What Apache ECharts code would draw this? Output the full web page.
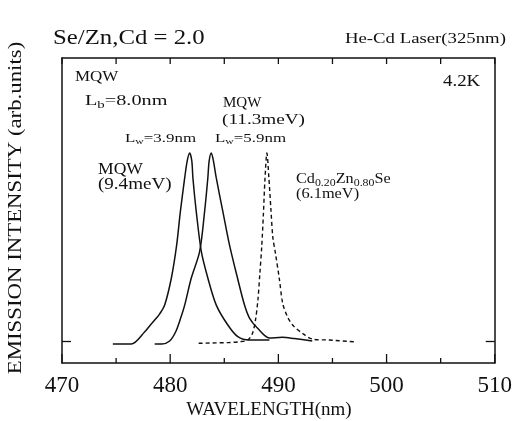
<!DOCTYPE html>
<html>
<head>
<meta charset="utf-8">
<script src="https://cdn.jsdelivr.net/npm/echarts@6/dist/echarts.min.js"></script>
<style>html,body{margin:0;padding:0;background:#fff}#c{width:515px;height:421px}</style>
</head>
<body>
<div id="c"></div>
<script>
// ---- data ----
const xTicks = [470, 480, 490, 500, 510];
const xMinorTicks = [475, 485, 495, 505];
const xTopTicks = [470, 475, 480, 485, 490, 495, 500, 505, 510];
const yTicks = [0];
const mqw39_wl = [474.7, 476.4, 477.65, 478.1, 478.73, 479.03, 479.49, 480.11, 480.6, 480.94, 481.34, 481.57, 481.8, 482.0, 482.1, 482.41, 482.88, 483.48, 484.26, 485.33, 486.25, 487.33, 489.17];
const mqw39_I  = [-0.016, -0.016, 0.049, 0.08, 0.122, 0.144, 0.191, 0.335, 0.511, 0.688, 0.867, 0.957, 1.0, 0.957, 0.867, 0.688, 0.475, 0.335, 0.191, 0.085, 0.023, 0.005, 0.005];
const mqw59_wl = [478.57, 479.22, 479.95, 480.51, 480.97, 481.34, 481.95, 482.72, 483.18, 483.48, 483.6, 483.8, 484.0, 484.26, 484.87, 485.48, 486.22, 486.87, 487.33, 488.06, 489.17, 490.37, 491.47, 493.13];
const mqw59_I  = [-0.016, -0.016, 0.0, 0.049, 0.122, 0.191, 0.335, 0.475, 0.688, 0.867, 0.957, 1.0, 0.957, 0.867, 0.688, 0.511, 0.335, 0.191, 0.122, 0.069, 0.016, 0.020, 0.013, 0.0];
const cdznse_wl = [482.63, 485.48, 486.41, 487.17, 487.6, 487.88, 488.11, 488.29, 488.46, 488.62, 488.76, 488.94, 489.12, 489.31, 489.49, 489.72, 490.09, 490.4, 490.83, 491.32, 492.24, 493.16, 494.7, 497.16];
const cdznse_I  = [-0.012, -0.008, -0.004, 0.005, 0.04, 0.11, 0.22, 0.36, 0.5, 0.68, 0.86, 1.0, 0.87, 0.7, 0.55, 0.47, 0.33, 0.2, 0.13, 0.085, 0.04, 0.01, 0.005, -0.005];

const pair = (xs, ys) => xs.map((x, i) => [x, ys[i]]);
const ink = '#111';
const serif = '"Liberation Serif", "Times New Roman", serif';
const yMin = -0.117, yMax = 1.505;

const chart = echarts.init(document.getElementById('c'), null, {renderer: 'canvas'});

function txt(x, y, text, size, sx, align) {
  return {
    type: 'text', x: x, y: y, scaleX: sx || 1,
    style: {x: 0, y: 0, text: text, font: size + 'px ' + serif, fill: ink, verticalAlign: 'top', align: align || 'left'}
  };
}
function richTxt(x, y, text, size, sx) {
  return {
    type: 'text', x: x, y: y, scaleX: sx || 1,
    style: {
      x: 0, y: 0, verticalAlign: 'top', align: 'left', fill: ink,
      text: text,
      rich: {
        a: {fontSize: size, fontFamily: serif, fill: ink, lineHeight: size + 4},
        s: {fontSize: Math.round(size * 0.7), fontFamily: serif, fill: ink, lineHeight: size + 4, padding: [Math.round(size * 0.45), 0, 0, 0]}
      }
    }
  };
}
function xAx(pos, labels) {
  return {
    type: 'value', min: 470, max: 510, interval: 10, position: pos,
    axisLine: {show: true, onZero: false, lineStyle: {color: ink, width: 1.5}},
    axisTick: {show: false},
    splitLine: {show: false},
    axisLabel: labels ? {color: ink, fontSize: 23, fontFamily: serif, margin: 11} : {show: false}
  };
}
function yAx(pos) {
  return {
    type: 'value', min: yMin, max: yMax, position: pos,
    axisLine: {show: true, onZero: false, lineStyle: {color: ink, width: 1.5}},
    axisTick: {show: true, inside: true, length: 9, customValues: yTicks, lineStyle: {color: ink, width: 1.3}},
    axisLabel: {show: false},
    splitLine: {show: false}
  };
}
// inward x ticks drawn through the x scale; dir -1 = up from bottom edge, +1 = down from top edge
function tickSeries(values, edge, len, dir) {
  return {
    type: 'custom', silent: true, clip: false, z: 5,
    data: values.map(v => [v, edge]),
    encode: {x: 0, y: 1},
    renderItem: function (params, api) {
      const p = api.coord([api.value(0), api.value(1)]);
      return {
        type: 'line',
        shape: {x1: p[0], y1: p[1], x2: p[0], y2: p[1] + dir * len},
        style: {stroke: ink, lineWidth: 1.3}
      };
    }
  };
}

const option = {
  backgroundColor: '#fff',
  animation: false,
  grid: {left: 62, right: 19, top: 58, bottom: 58},
  xAxis: [xAx('bottom', true), xAx('top', false)],
  yAxis: [yAx('left'), yAx('right')],
  series: [{
    type: 'line', name: 'MQW Lw=3.9nm', data: pair(mqw39_wl, mqw39_I), showSymbol: false,
    smooth: 0.3, lineStyle: {color: ink, width: 1.5}
  }, {
    type: 'line', name: 'MQW Lw=5.9nm', data: pair(mqw59_wl, mqw59_I), showSymbol: false,
    smooth: 0.3, lineStyle: {color: ink, width: 1.5}
  }, {
    type: 'line', name: 'Cd0.20Zn0.80Se', data: pair(cdznse_wl, cdznse_I), showSymbol: false,
    smooth: 0.3, lineStyle: {color: ink, width: 1.4, type: [4, 3]}
  },
    tickSeries(xTicks, yMin, 9, -1),
    tickSeries(xMinorTicks, yMin, 5, -1),
    tickSeries(xTopTicks, yMax, 6, 1)
  ],
  graphic: [
    txt(53, 28, 'Se/Zn,Cd = 2.0', 21, 1.18),
    txt(345, 32, 'He-Cd Laser(325nm)', 15, 1.25),
    txt(443, 74, '4.2K', 16, 1.18),
    txt(75, 70, 'MQW', 15, 1.13),
    richTxt(85, 92, '{a|L}{s|b}{a|=8.0nm}', 15, 1.35),
    txt(223, 96, 'MQW', 15, 1.0),
    txt(222, 113, '(11.3meV)', 15, 1.28),
    richTxt(125, 130, '{a|L}{s|w}{a|=3.9nm}', 13, 1.3),
    richTxt(215, 130, '{a|L}{s|w}{a|=5.9nm}', 13, 1.3),
    txt(98, 162, 'MQW', 16, 1.1),
    txt(98, 177, '(9.4meV)', 16, 1.19),
    richTxt(296, 170, '{a|Cd}{s|0.20}{a|Zn}{s|0.80}{a|Se}', 15, 1.08),
    txt(296, 187, '(6.1meV)', 15, 1.09),
    txt(269, 401, 'WAVELENGTH(nm)', 19, 1.0, 'center'),
    {
      type: 'text', x: 16, y: 208, rotation: Math.PI / 2, scaleX: 1.2,
      style: {x: 0, y: 0, text: 'EMISSION INTENSITY (arb.units)', font: '19px ' + serif, fill: ink, align: 'center', verticalAlign: 'middle'}
    }
  ]
};
chart.setOption(option);
</script>
</body>
</html>
